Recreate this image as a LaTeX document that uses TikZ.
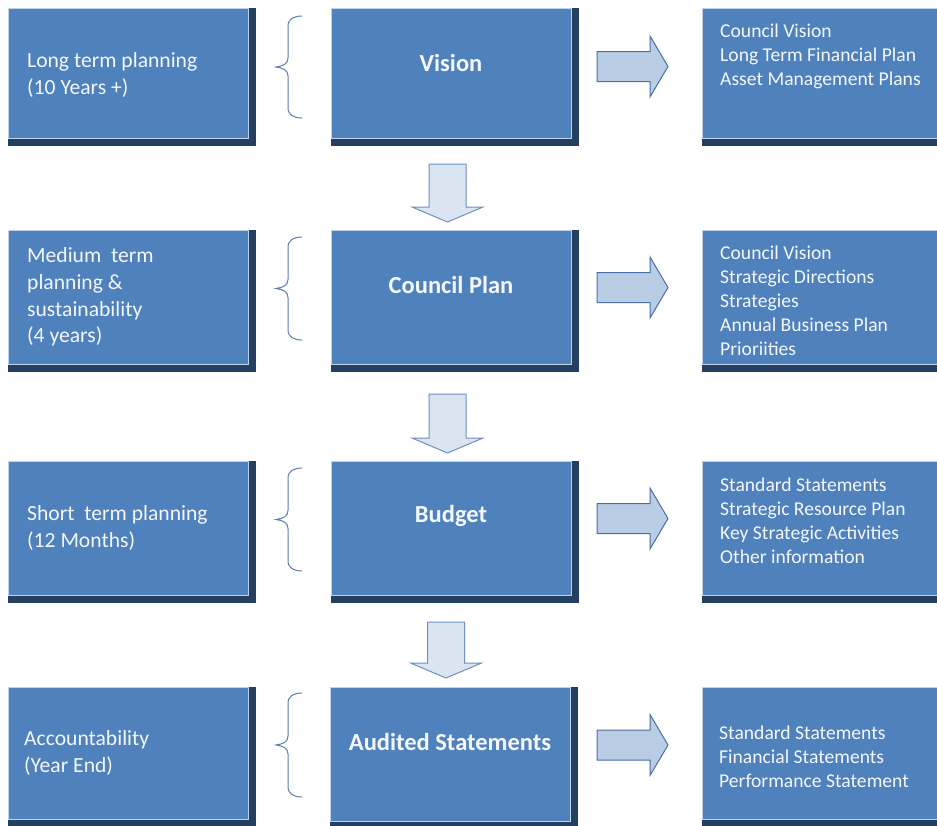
\documentclass[tikz,border=0pt]{standalone}
\usepackage{fontspec}
\setmainfont{Carlito}
\usetikzlibrary{calc}
\definecolor{boxblue}{HTML}{4F81BD}
\definecolor{shadowblue}{HTML}{243F60}
\definecolor{edgeblue}{HTML}{C0D2E9}
\definecolor{rarrowfill}{HTML}{B9CDE5}
\definecolor{rarrowline}{HTML}{4A6FA5}
\definecolor{darrowfill}{HTML}{DBE5F1}
\definecolor{darrowline}{HTML}{6F8FC2}
\definecolor{bracecol}{HTML}{5B7DB1}
\definecolor{txtcol}{HTML}{F4F7FC}
\tikzset{
  panel/.style={fill=boxblue, draw=edgeblue, line width=0.8pt, inner sep=0pt, outer sep=0pt},
  shadowfill/.style={fill=shadowblue},
  lefttext/.style={align=left, inner sep=0pt, text=txtcol, font=\fontsize{21.6}{26.6}\selectfont},
  righttext/.style={align=left, inner sep=0pt, text=txtcol, font=\fontsize{19.6}{24}\selectfont},
  titletext/.style={inner sep=0pt, text=txtcol, font=\fontsize{24.5}{28}\selectfont\bfseries},
  bracestyle/.style={draw=bracecol, line width=1pt},
  dnarrowstyle/.style={fill=darrowfill, draw=darrowline, line width=1pt, line join=miter},
  rtarrowstyle/.style={fill=rarrowfill, draw=rarrowline, line width=1pt, line join=miter}
}
% name x1 y1 x2 y2
\newcommand\panelbox[5]{%
  \fill[shadowfill] (#2,#3) rectangle ({#4+8},{#5+8});
  \node[panel, minimum width={#4-#2}, minimum height={#5-#3}] (#1) at ({(#2+#4)/2},{(#3+#5)/2}) {};
}
\newcommand\curlybrace[2]{%
  \draw[bracestyle] (302,#1) .. controls (294,#1) and (288,{#1+3}) .. (288,{#1+10})
    -- (288,{(#1+#2)/2-9}) .. controls (288,{(#1+#2)/2-3}) and (283,{(#1+#2)/2-1}) .. (276,{(#1+#2)/2})
    .. controls (283,{(#1+#2)/2+1}) and (288,{(#1+#2)/2+3}) .. (288,{(#1+#2)/2+9})
    -- (288,{#2-10}) .. controls (288,{#2-3}) and (294,#2) .. (302,#2);
}
\newcommand\dnarrow[4]{%
  \draw[dnarrowstyle] ({#1-18.5},#2) -- ({#1+18.5},#2) -- ({#1+18.5},#3) -- ({#1+35.5},#3)
    -- (#1,#4) -- ({#1-35.5},#3) -- ({#1-18.5},#3) -- cycle;
}
\newcommand\rtarrow[1]{%
  \draw[rtarrowstyle] (597,{#1-15}) -- (650,{#1-15}) -- (650,{#1-30.5}) -- (668,#1)
    -- (650,{#1+30.5}) -- (650,{#1+15}) -- (597,{#1+15}) -- cycle;
}
\begin{document}
\begin{tikzpicture}[x=1pt, y=-1pt]
\useasboundingbox (0,0) rectangle (937,825);
\clip (0,0) rectangle (937,825);
\fill[white] (0,0) rectangle (937,825);

% row 1
\panelbox{L1}{8}{8}{248}{138}
\panelbox{M1}{331}{8}{571}{138}
\panelbox{R1}{702}{8}{950}{138}
% row 2
\panelbox{L2}{8}{230}{248}{364}
\panelbox{M2}{331}{230}{571}{364}
\panelbox{R2}{702}{230}{950}{364}
% row 3
\panelbox{L3}{8}{461}{248}{595}
\panelbox{M3}{331}{461}{571}{595}
\panelbox{R3}{702}{461}{950}{595}
% row 4
\panelbox{L4}{8}{687}{248}{819}
\panelbox{M4}{330}{687}{570}{821}
\panelbox{R4}{702}{687}{950}{819}

% left texts
\node[lefttext, anchor=west] (t1) at ($(L1.west)+(19,2)$) {Long term planning\\(10 Years +)};
\node[lefttext, anchor=west] (t2) at ($(L2.west)+(19,0)$) {Medium\ \ term\\planning \&\\sustainability\\(4 years)};
\node[lefttext, anchor=west] (t3) at ($(L3.west)+(19,0)$) {Short\ \ term planning\\(12 Months)};
\node[lefttext, anchor=west] (t4) at ($(L4.west)+(16,0)$) {Accountability\\(Year End)};

% titles
\node[titletext] (h1) at ($(M1)+(0,-10)$) {Vision};
\node[titletext] (h2) at ($(M2)+(0,-12)$) {Council Plan};
\node[titletext] (h3) at ($(M3)+(0,-12)$) {Budget};
\node[titletext] (h4) at ($(M4)+(0,-12)$) {Audited Statements};

% right texts
\node[righttext, anchor=north west] (r1) at ($(R1.north west)+(18,16)$) {Council Vision\\Long Term Financial Plan\\Asset Management Plans};
\node[righttext, anchor=north west] (r2) at ($(R2.north west)+(18,16)$) {Council Vision\\Strategic Directions\\Strategies\\Annual Business Plan\\Prioriities};
\node[righttext, anchor=north west] (r3) at ($(R3.north west)+(18,17)$) {Standard Statements\\Strategic Resource Plan\\Key Strategic Activities\\Other information};
\node[righttext, anchor=west] (r4) at ($(R4.west)+(17,4)$) {Standard Statements\\Financial Statements\\Performance Statement};

% braces
\curlybrace{16}{118}
\curlybrace{237}{340}
\curlybrace{468}{571}
\curlybrace{693}{797}

% down arrows
\dnarrow{447.5}{164}{207}{222}
\dnarrow{447.5}{394}{438}{453}
\dnarrow{446}{622}{663}{678}

% right arrows
\rtarrow{66.5}
\rtarrow{287.5}
\rtarrow{518.5}
\rtarrow{745}
\end{tikzpicture}
\end{document}
